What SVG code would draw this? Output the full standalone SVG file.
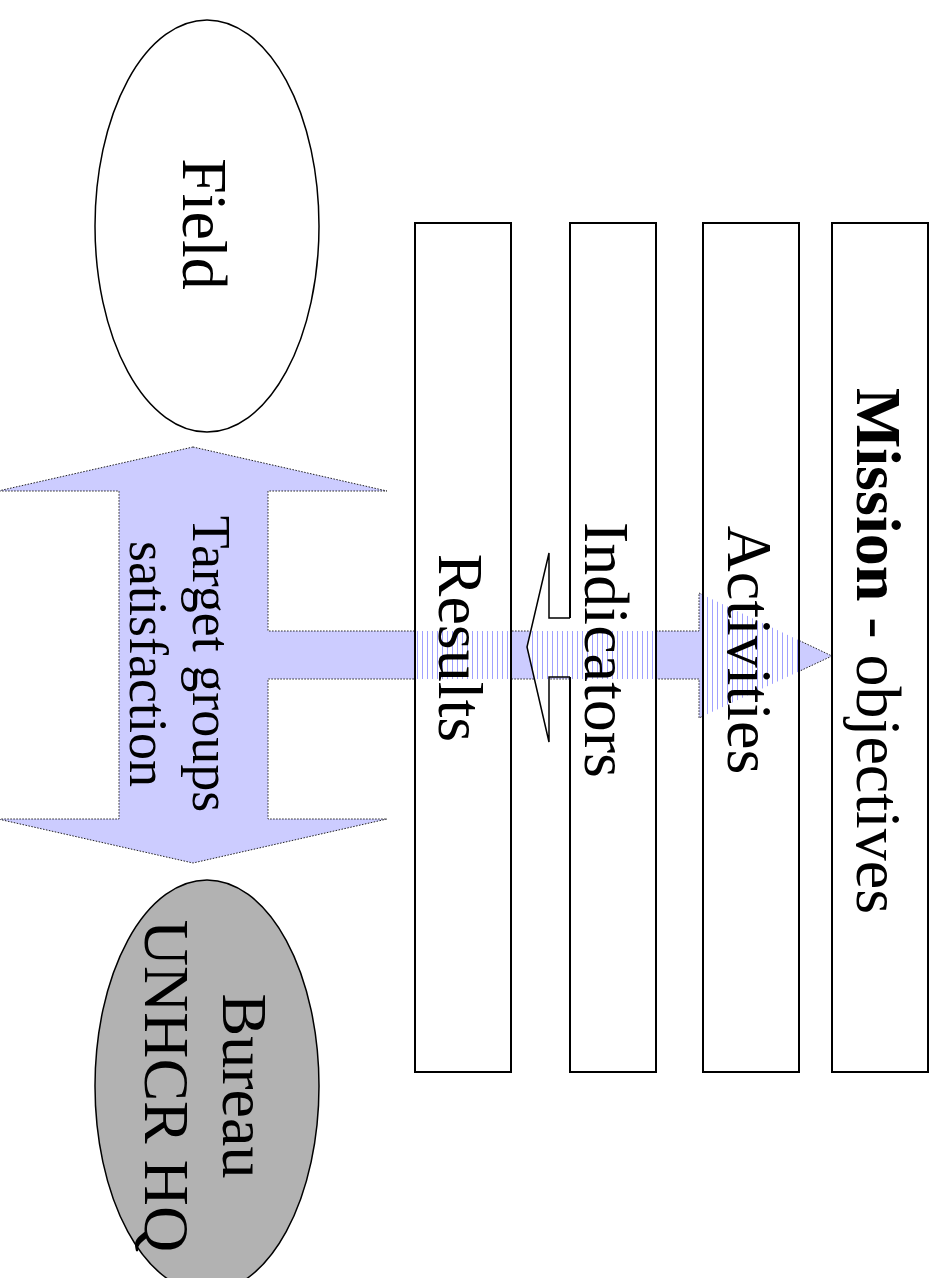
<svg xmlns="http://www.w3.org/2000/svg" width="936" height="1278" viewBox="0 0 936 1278">
<style>
.box{fill:#fff;stroke:none}
.boxline{fill:none;stroke:#000;stroke-width:2}
.ell{stroke:#000;stroke-width:1.5}
.lbl{font-family:"Liberation Serif","Times New Roman",serif;font-size:64px;fill:#000;text-anchor:middle}
.blue{fill:#CCCCFF;stroke:#222;stroke-width:1;stroke-dasharray:1.5 1.5}
.stripes{fill:url(#vstripes);stroke:none}
</style>
<defs>
<pattern id="vstripes" patternUnits="userSpaceOnUse" x="0" y="0" width="5" height="5">
<rect x="2" y="0" width="1" height="5" fill="#A0A0FF"/>
</pattern>
<path id="blueShape" d="M193,447 L387,491 L268,491 L268,631 L699,631 L699,593 L832,656 L699,718 L699,679 L268,679 L268,819 L387,819 L193,863 L-2,819 L119,819 L119,491 L-2,491 Z"/>
<clipPath id="rectsClip">
<rect x="415" y="223" width="96" height="849"/>
<rect x="570" y="223" width="86" height="849"/>
<rect x="703" y="223" width="96" height="849"/>
<rect x="832" y="223" width="96" height="849"/>
</clipPath>
<polygon id="whiteArrowShape" points="527,647 549,553 549,618 574,618 574,677 549,677 549,742"/>
<clipPath id="whiteArrowClip">
<use href="#whiteArrowShape"/>
</clipPath>
</defs>

<g id="connectors">
<use href="#blueShape" class="blue"/>
</g>

<g id="node-field">
<ellipse class="ell" cx="207" cy="226" rx="112" ry="206" fill="#fff"/>
<text class="lbl" transform="translate(183,224) rotate(90)">Field</text>
</g>

<g id="node-hq">
<ellipse class="ell" cx="207" cy="1086" rx="112" ry="206" fill="#B2B2B2"/>
<text class="lbl" transform="translate(223,1086) rotate(90)">Bureau</text>
<text class="lbl" transform="translate(145,1086) rotate(90)">UNHCR HQ</text>
</g>

<g id="rect-fills">
<rect class="box" x="415" y="223" width="96" height="849"/>
<rect class="box" x="570" y="223" width="86" height="849"/>
<rect class="box" x="703" y="223" width="96" height="849"/>
<rect class="box" x="832" y="223" width="96" height="849"/>
<use href="#blueShape" class="stripes" clip-path="url(#rectsClip)"/>
</g>

<g id="node-results">
<rect class="boxline" x="415" y="223" width="96" height="849"/>
<text class="lbl" transform="translate(439,648) rotate(90)">Results</text>
</g>

<g id="node-indicators">
<rect class="boxline" x="570" y="223" width="86" height="849"/>
<text class="lbl" transform="translate(585,650) rotate(90)">Indicators</text>
</g>

<g id="node-activities">
<rect class="boxline" x="703" y="223" width="96" height="849"/>
<text class="lbl" transform="translate(728,650) rotate(90)">Activities</text>
</g>

<g id="node-mission">
<rect class="boxline" x="832" y="223" width="96" height="849"/>
<text class="lbl" transform="translate(857,651) rotate(90)"><tspan font-weight="bold">Mission</tspan> - objectives</text>
</g>

<g id="connector-indicators-arrow">
<use href="#whiteArrowShape" fill="#fff"/>
<use href="#blueShape" class="stripes" clip-path="url(#whiteArrowClip)"/>
<polyline points="570,618 549,618 549,553 527,647 549,742 549,677 570,677" fill="none" stroke="#000" stroke-width="1.5" stroke-linejoin="miter"/>
</g>

<g id="node-target">
<text class="lbl" style="font-size:54px" transform="translate(193,664) rotate(90)">Target groups</text>
<text class="lbl" style="font-size:54px" transform="translate(130,664) rotate(90)">satisfaction</text>
</g>
</svg>
